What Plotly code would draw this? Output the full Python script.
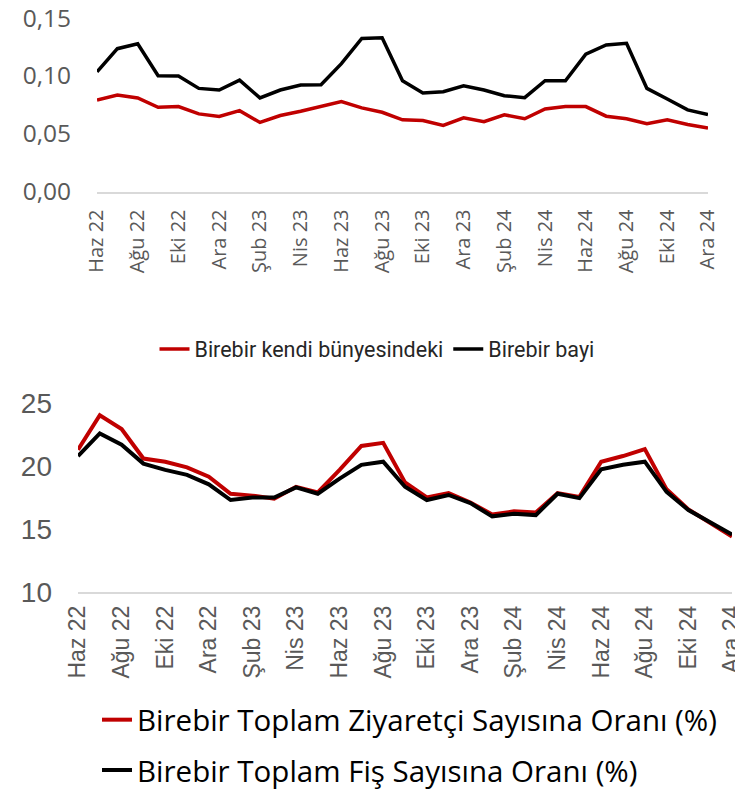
import plotly.graph_objects as go

months = ["Haz 22","Tem 22","Ağu 22","Eyl 22","Eki 22","Kas 22","Ara 22",
          "Oca 23","Şub 23","Mar 23","Nis 23","May 23","Haz 23","Tem 23","Ağu 23",
          "Eyl 23","Eki 23","Kas 23","Ara 23","Oca 24","Şub 24","Mar 24","Nis 24",
          "May 24","Haz 24","Tem 24","Ağu 24","Eyl 24","Eki 24","Kas 24","Ara 24"]
tick_months = months[::2]

kendi = [0.0792,0.0835,0.0810,0.0729,0.0735,0.0672,0.0649,0.0700,0.0598,0.0658,
         0.0695,0.0735,0.0778,0.0724,0.0686,0.0621,0.0615,0.0572,0.0638,0.0604,
         0.0664,0.0630,0.0715,0.0735,0.0735,0.0652,0.0630,0.0587,0.0621,0.0580,0.0549]
bayi = [0.1035,0.1235,0.1278,0.1001,0.1000,0.0892,0.0878,0.0964,0.0810,0.0878,
        0.0921,0.0924,0.1106,0.1324,0.1329,0.0958,0.0852,0.0864,0.0915,0.0878,
        0.0829,0.0812,0.0958,0.0958,0.1187,0.1267,0.1281,0.0892,0.0801,0.0707,0.0666]

ziyaretci = [21.3,24.05,22.95,20.6,20.35,19.9,19.15,17.8,17.65,17.4,
             18.35,17.9,19.7,21.6,21.85,18.7,17.5,17.85,17.1,16.15,
             16.4,16.3,17.85,17.55,20.35,20.8,21.35,18.15,16.55,15.5,14.4]
fis = [20.8,22.6,21.7,20.2,19.7,19.3,18.55,17.3,17.5,17.5,
       18.3,17.8,19.0,20.1,20.35,18.35,17.3,17.7,17.05,16.0,
       16.2,16.1,17.8,17.45,19.75,20.1,20.35,17.95,16.5,15.55,14.55]

RED = "#C00000"
BLACK = "#000000"
OFF = 8                      # default page body margin
W, H = 743 - OFF, 790 - OFF


def fx(px):
    return (px - OFF) / W


def fy(py):
    return 1 - (py - OFF) / H


fig = go.Figure()
fig.add_trace(go.Scatter(x=months, y=kendi, mode="lines", name="Birebir kendi bünyesindeki",
                         line=dict(color=RED, width=3.5), xaxis="x", yaxis="y", legend="legend"))
fig.add_trace(go.Scatter(x=months, y=bayi, mode="lines", name="Birebir bayi",
                         line=dict(color=BLACK, width=3.5), xaxis="x", yaxis="y", legend="legend"))
fig.add_trace(go.Scatter(x=months, y=ziyaretci, mode="lines",
                         name="Birebir Toplam Ziyaretçi Sayısına Oranı (%)",
                         line=dict(color=RED, width=4), xaxis="x2", yaxis="y2",
                         legend="legend2", legendgroup="a"))
fig.add_trace(go.Scatter(x=months, y=fis, mode="lines",
                         name="Birebir Toplam Fiş Sayısına Oranı (%)",
                         line=dict(color=BLACK, width=4), xaxis="x2", yaxis="y2",
                         legend="legend2", legendgroup="b"))

grey = "#595959"
fig.update_layout(
    width=W, height=H,
    margin=dict(l=0, r=0, t=0, b=0, autoexpand=False),
    paper_bgcolor="white", plot_bgcolor="white",
    separators=",.",
    showlegend=True,
    xaxis=dict(domain=[fx(97), fx(708)], anchor="y", type="category", range=[0, 30],
               tickvals=tick_months, ticktext=tick_months, tickangle=-90,
               showgrid=False, zeroline=False, showline=True, linecolor="#d9d9d9",
               linewidth=1.5, ticks="", ticklabelstandoff=8, automargin=False,
               ticklabeloverflow="allow",
               tickfont=dict(family="Open Sans", size=20, color=grey)),
    yaxis=dict(domain=[fy(191.7), fy(18)], anchor="x", range=[0, 0.15],
               tickvals=[0, 0.05, 0.10, 0.15], tickformat=".2f",
               showgrid=False, zeroline=False, showline=False, ticks="",
               ticklabelstandoff=25, automargin=False, ticklabeloverflow="allow",
               tickfont=dict(family="Open Sans", size=24.5, color=grey)),
    xaxis2=dict(domain=[fx(78), fx(732)], anchor="y2", type="category", range=[0, 30],
                tickvals=tick_months, ticktext=tick_months, tickangle=-90,
                showgrid=False, zeroline=False, showline=True, linecolor="#d9d9d9",
                linewidth=1.5, ticks="", ticklabelstandoff=3, automargin=False,
                ticklabeloverflow="allow",
                tickfont=dict(family="Liberation Sans", size=23, color=grey)),
    yaxis2=dict(domain=[fy(591.7), fy(403.3)], anchor="x2", range=[10, 25],
                tickvals=[10, 15, 20, 25],
                showgrid=False, zeroline=False, showline=False, ticks="",
                ticklabelstandoff=25, automargin=False, ticklabeloverflow="allow",
                tickfont=dict(family="Liberation Sans", size=28, color=grey)),
    legend=dict(orientation="h", x=fx(377), xanchor="center", y=fy(349), yanchor="middle",
                font=dict(family="Roboto", size=21.5, color="#262626"),
                bgcolor="rgba(0,0,0,0)", itemwidth=30),
    legend2=dict(orientation="v", x=fx(97), xanchor="left", y=fy(745), yanchor="middle",
                 font=dict(family="Open Sans", size=29.5, color="#000000"),
                 bgcolor="rgba(0,0,0,0)", itemwidth=30,
                 traceorder="grouped", tracegroupgap=9),
)

fig.write_html("out.html")
